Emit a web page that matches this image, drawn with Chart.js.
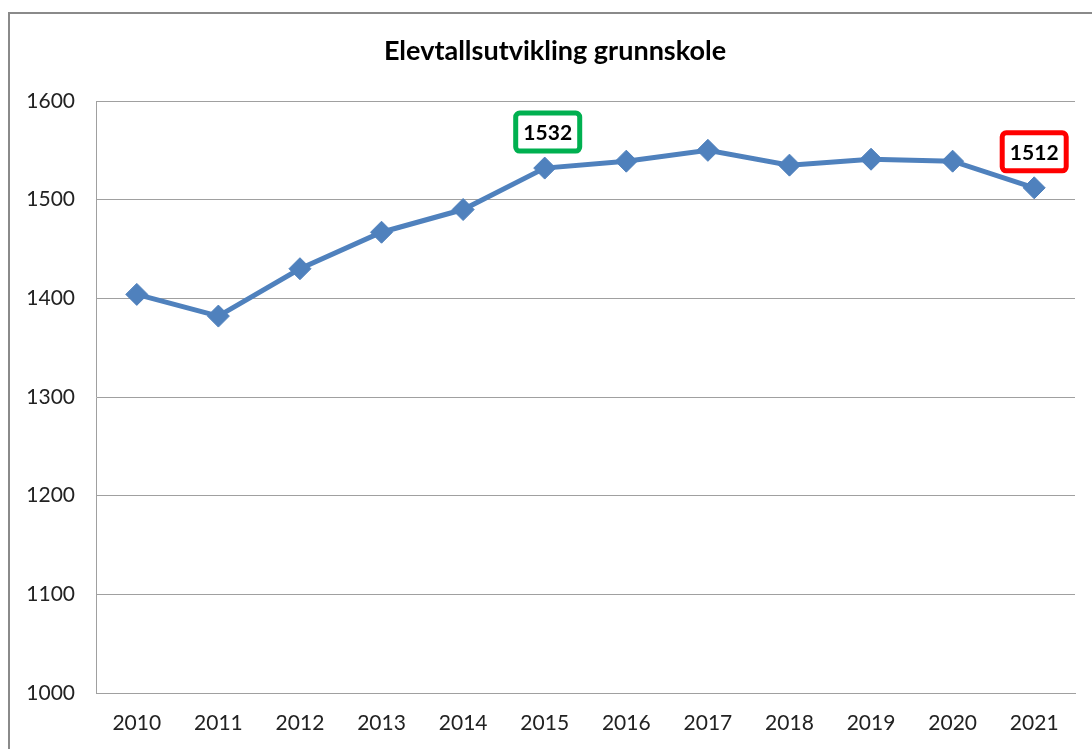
<!DOCTYPE html>
<html><head><meta charset="utf-8">
<script src="https://cdn.jsdelivr.net/npm/chart.js@4"></script>
<style>html,body{margin:0;padding:0;background:#fff;overflow:hidden;}</style>
</head><body>
<canvas id="c" width="1092" height="749"></canvas>
<script>
const titleText = 'Elevtallsutvikling grunnskole';
const years = ['2010','2011','2012','2013','2014','2015','2016','2017','2018','2019','2020','2021'];
const pupils = [1404,1382,1430,1467,1490,1532,1539,1550,1535,1541,1539,1512];
const yMin = 1000, yMax = 1600, yStep = 100;
const calloutIndex = [5, 11];
const calloutText = ['1532', '1512'];
const calloutColor = ['#00B050', '#FF0000'];

const FONT = 'Lato, "Liberation Sans", sans-serif';

const decor = {
  id: 'decor',
  beforeDraw(chart) {
    const ctx = chart.ctx;
    ctx.save();
    ctx.fillStyle = '#fff';
    ctx.fillRect(0, 0, chart.width, chart.height);
    ctx.strokeStyle = '#8a8a8a';
    ctx.lineWidth = 2;
    ctx.strokeRect(9, 13, 1200, 1000);
    ctx.restore();
  },
  afterDraw(chart) {
    const ctx = chart.ctx;
    ctx.save();
    ctx.fillStyle = '#000';
    ctx.font = 'bold 27px ' + FONT;
    ctx.textAlign = 'center';
    ctx.textBaseline = 'middle';
    ctx.fillText(titleText, 555, 51);
    const meta = chart.getDatasetMeta(0);
    calloutIndex.forEach((idx, k) => {
      const pt = meta.data[idx];
      const cx = pt.x + (idx === 5 ? 3 : 0), cy = pt.y - 36;
      const w = 64, h = 38;
      ctx.beginPath();
      ctx.roundRect(cx - w / 2, cy - h / 2, w, h, 4);
      ctx.fillStyle = '#fff';
      ctx.fill();
      ctx.lineWidth = 5;
      ctx.strokeStyle = calloutColor[k];
      ctx.stroke();
      ctx.fillStyle = '#000';
      ctx.font = 'bold 21px ' + FONT;
      ctx.fillText(calloutText[k], cx, cy + 1);
    });
    ctx.restore();
  }
};

new Chart(document.getElementById('c'), {
  type: 'line',
  data: {
    labels: years,
    datasets: [{
      data: pupils,
      borderColor: '#4F81BD',
      backgroundColor: '#4F81BD',
      borderWidth: 5,
      pointStyle: 'rectRot',
      pointRadius: 11,
      pointHoverRadius: 11,
      pointBorderWidth: 1,
      tension: 0
    }]
  },
  options: {
    responsive: false,
    animation: false,
    layout: { padding: { top: 101, right: 17, bottom: 0, left: 0 } },
    plugins: { legend: { display: false }, title: { display: false }, tooltip: { enabled: false } },
    scales: {
      x: {
        offset: true,
        grid: { display: false, drawTicks: false },
        border: { display: true, color: '#a0a0a0', width: 1 },
        ticks: { color: '#222', font: { family: FONT, size: 21 }, padding: 18, maxRotation: 0 },
        afterFit(s) { s.height = 56; }
      },
      y: {
        min: yMin, max: yMax,
        grid: { color: '#a0a0a0', drawTicks: false },
        border: { display: true, color: '#a0a0a0', width: 1 },
        ticks: { stepSize: yStep, color: '#222', font: { family: FONT, size: 21 }, padding: 21,
                 callback: (v) => String(v) },
        afterFit(s) { s.width = 96; }
      }
    }
  },
  plugins: [decor]
});
</script>
</body></html>
